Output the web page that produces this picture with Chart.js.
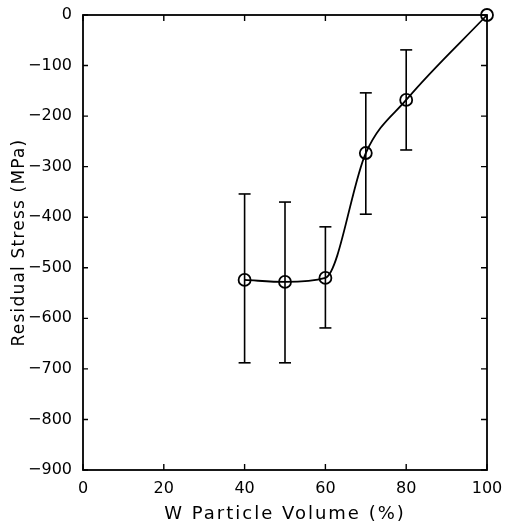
<!DOCTYPE html>
<html>
<head>
<meta charset="utf-8">
<script src="https://cdn.jsdelivr.net/npm/chart.js@4"></script>
<style>
  html, body { margin: 0; padding: 0; background: #fff; }
  #wrap { width: 511px; height: 529px; }
</style>
</head>
<body>
<div id="wrap"><canvas id="myChart"></canvas></div>
<script>
// datos
const volumen = [40, 50, 60, 70, 80, 100];
const tension = [-524, -528, -520, -273, -168, 0];
const errorAlto = [-354, -370, -419, -154, -69, null];
const errorBajo = [-688, -688, -619, -394, -267, null];
const xTicks = [0, 20, 40, 60, 80, 100];
const yTicks = [0, -100, -200, -300, -400, -500, -600, -700, -800, -900];

const fuente = "'DejaVu Sans', sans-serif";

// curva principal
const datasets = [{
  data: volumen.map((v, i) => ({ x: v, y: tension[i] })),
  borderColor: "#000",
  backgroundColor: "rgba(0,0,0,0)",
  borderWidth: 1.8,
  showLine: true,
  cubicInterpolationMode: "monotone",
  clip: false,
  pointStyle: "circle",
  pointRadius: 6,
  pointBorderWidth: 1.8,
  pointBorderColor: "#000",
  pointBackgroundColor: "rgba(0,0,0,0)"
}];

// barras de error, una por punto
for (let i = 0; i < volumen.length; i++) {
  if (errorAlto[i] === null) continue;
  datasets.push({
    data: [{ x: volumen[i], y: errorAlto[i] }, { x: volumen[i], y: errorBajo[i] }],
    borderColor: "#000",
    borderWidth: 1.6,
    showLine: true,
    pointStyle: "line",
    pointRadius: 6,
    pointBorderWidth: 1.6,
    pointBorderColor: "#000"
  });
}

// espaciado de letras en los titulos de los ejes
function espaciar(scale, ctx, esp) {
  if (scale._espaciado) return;
  const orig = scale.drawTitle.bind(scale);
  scale.drawTitle = function () {
    ctx.letterSpacing = esp;
    orig();
    ctx.letterSpacing = "0px";
  };
  scale._espaciado = true;
}

// marcas de los ejes hacia adentro
const marcas = {
  id: "marcas",
  beforeDraw(chart) {
    espaciar(chart.scales.x, chart.ctx, "2px");
    espaciar(chart.scales.y, chart.ctx, "1.2px");
  },
  afterDraw(chart) {
    const ctx = chart.ctx;
    const a = chart.chartArea;
    const xs = chart.scales.x, ys = chart.scales.y;
    ctx.save();
    ctx.strokeStyle = "#000";
    ctx.lineWidth = 1.4;
    ctx.beginPath();
    xTicks.forEach(t => {
      const px = xs.getPixelForValue(t);
      ctx.moveTo(px, a.bottom); ctx.lineTo(px, a.bottom - 6);
      ctx.moveTo(px, a.top); ctx.lineTo(px, a.top + 6);
    });
    yTicks.forEach(t => {
      const py = ys.getPixelForValue(t);
      ctx.moveTo(a.left, py); ctx.lineTo(a.left + 5, py);
      ctx.moveTo(a.right, py); ctx.lineTo(a.right - 6, py);
    });
    ctx.stroke();
    ctx.lineWidth = 1.8;
    ctx.strokeRect(a.left, a.top, a.right - a.left, a.bottom - a.top);
    ctx.restore();
  }
};

const config = {
  type: "scatter",
  data: { datasets: datasets },
  options: {
    responsive: true,
    maintainAspectRatio: false,
    animation: false,
    layout: { padding: { top: 15, right: 24, left: 0, bottom: 0 } },
    plugins: { legend: { display: false }, tooltip: { enabled: false } },
    scales: {
      x: {
        type: "linear",
        min: 0, max: 100,
        afterBuildTicks: (s) => { s.ticks = xTicks.map(v => ({ value: v })); },
        afterFit: (s) => { s.height = 59; },
        grid: { display: false },
        border: { display: false },
        ticks: { color: "#000", font: { family: fuente, size: 16 }, padding: 1 },
        title: {
          display: true,
          text: "W Particle Volume (%)",
          color: "#000",
          font: { family: fuente, size: 18 },
          padding: { top: 11 }
        }
      },
      y: {
        type: "linear",
        min: -900, max: 0,
        afterBuildTicks: (s) => { s.ticks = yTicks.map(v => ({ value: v })); },
        afterFit: (s) => { s.width = 83; },
        grid: { display: false },
        border: { display: false },
        ticks: {
          color: "#000",
          font: { family: fuente, size: 16 },
          padding: 3,
          callback: (v) => String(v).replace("-", "\u2212")
        },
        title: {
          display: true,
          text: "Residual Stress (MPa)",
          color: "#000",
          font: { family: fuente, size: 17 },
          padding: { top: 9, bottom: 0 }
        }
      }
    }
  },
  plugins: [marcas]
};

const grafica = new Chart(document.getElementById("myChart"), config);
</script>
</body>
</html>
